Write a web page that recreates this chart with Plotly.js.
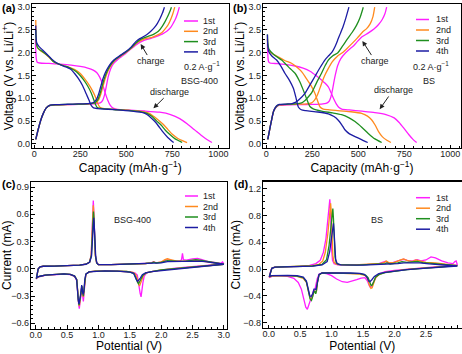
<!DOCTYPE html>
<html><head><meta charset="utf-8">
<script src="https://cdn.plot.ly/plotly-3.0.1.min.js"></script>
<style>html,body{margin:0;padding:0;background:#fff}#chart{width:462px;height:354px}</style>
</head><body><div id="chart"></div>
<script>
// ---------------- DATA ----------------
const cycleLabels = ['1st', '2nd', '3rd', '4th'];

// (a) BSG-400 galvanostatic curves [capacity mAh/g, voltage V]
const bsgDischarge1 = [[6,2.3],[8,2.05],[11,1.86],[16,1.79],[30,1.775],[80,1.765],[140,1.75],[200,1.728],[250,1.70],[290,1.665],[320,1.62],[340,1.56],[356,1.46],[370,1.32],[384,1.13],[398,0.97],[412,0.85],[428,0.785],[450,0.76],[520,0.742],[600,0.722],[680,0.695],[740,0.645],[790,0.555],[830,0.44],[870,0.31],[910,0.18],[940,0.09],[965,0.03]];
const bsgCharge1 = [[8,0.1],[20,0.3],[35,0.52],[49,0.67],[65,0.79],[85,0.84],[120,0.852],[180,0.86],[240,0.866],[300,0.874],[340,0.885],[360,0.905],[372,0.96],[382,1.08],[392,1.28],[402,1.48],[414,1.64],[430,1.76],[455,1.86],[495,1.98],[530,2.1],[562,2.2],[590,2.26],[620,2.3],[645,2.33],[665,2.36],[695,2.41],[720,2.47],[740,2.55],[755,2.65],[768,2.75],[778,2.86],[788,3.0]];
const bsgDischarge2 = [[8,2.72],[9.5,2.4],[12,2.2],[18,2.11],[32,2.05],[58,1.98],[80,1.9],[103,1.81],[130,1.755],[160,1.715],[190,1.68],[220,1.63],[248,1.55],[275,1.42],[300,1.28],[322,1.12],[337,0.98],[348,0.86],[358,0.8],[380,0.775],[440,0.755],[520,0.735],[590,0.71],[625,0.67],[650,0.6],[675,0.52],[700,0.43],[725,0.32],[750,0.21],[780,0.12],[805,0.07],[830,0.03]];
const bsgCharge2 = [[8,0.1],[20,0.3],[35,0.52],[49,0.67],[65,0.79],[85,0.845],[120,0.857],[180,0.864],[240,0.87],[290,0.878],[318,0.888],[336,0.91],[350,0.97],[362,1.1],[373,1.26],[385,1.43],[398,1.58],[416,1.72],[440,1.84],[470,1.93],[502,2.02],[532,2.12],[562,2.23],[590,2.29],[615,2.32],[640,2.34],[665,2.38],[692,2.44],[712,2.53],[728,2.62],[742,2.74],[753,2.86],[763,3.0]];
const bsgDischarge3 = [[8,2.5],[9.5,2.3],[12,2.18],[18,2.11],[32,2.06],[60,1.98],[80,1.91],[103,1.81],[130,1.755],[160,1.715],[190,1.675],[215,1.62],[240,1.54],[265,1.42],[290,1.27],[310,1.11],[323,0.97],[333,0.86],[342,0.8],[370,0.775],[430,0.755],[510,0.735],[580,0.705],[615,0.665],[640,0.6],[665,0.5],[690,0.41],[712,0.3],[738,0.2],[765,0.11],[790,0.06],[803,0.03]];
const bsgCharge3 = [[8,0.1],[20,0.3],[35,0.52],[49,0.67],[65,0.79],[85,0.845],[120,0.858],[180,0.866],[240,0.873],[290,0.88],[315,0.89],[331,0.91],[345,0.97],[357,1.1],[368,1.26],[380,1.43],[394,1.58],[412,1.72],[437,1.84],[467,1.93],[500,2.02],[530,2.12],[557,2.23],[580,2.3],[603,2.34],[625,2.37],[650,2.41],[674,2.47],[695,2.58],[711,2.69],[725,2.8],[737,2.91],[745,3.0]];
const bsgDischarge4 = [[8,2.6],[9.5,2.35],[13,2.22],[25,2.14],[45,2.06],[70,1.96],[95,1.86],[120,1.78],[150,1.72],[180,1.675],[200,1.635],[218,1.55],[240,1.43],[262,1.28],[282,1.1],[298,0.95],[310,0.84],[322,0.79],[345,0.775],[400,0.76],[470,0.74],[540,0.715],[590,0.685],[612,0.645],[635,0.57],[660,0.47],[682,0.35],[703,0.24],[725,0.14],[745,0.07],[757,0.03]];
const bsgCharge4 = [[8,0.1],[20,0.3],[35,0.52],[49,0.67],[65,0.79],[85,0.85],[120,0.862],[180,0.87],[240,0.877],[290,0.885],[310,0.895],[324,0.915],[337,0.97],[350,1.1],[361,1.26],[373,1.43],[388,1.58],[407,1.72],[432,1.84],[462,1.93],[496,2.02],[527,2.13],[553,2.25],[573,2.31],[592,2.35],[612,2.4],[633,2.47],[652,2.55],[668,2.64],[683,2.75],[696,2.87],[707,3.0]];

// (b) BS galvanostatic curves
const bsDischarge1 = [[6,2.2],[8,1.97],[12,1.81],[20,1.775],[60,1.762],[100,1.745],[150,1.715],[200,1.665],[240,1.59],[270,1.5],[300,1.4],[320,1.33],[337,1.25],[352,1.12],[366,0.99],[380,0.88],[395,0.8],[410,0.765],[450,0.745],[520,0.718],[590,0.688],[650,0.645],[695,0.57],[722,0.47],[748,0.34],[775,0.2],[797,0.1],[817,0.03]];
const bsCharge1 = [[8,0.1],[20,0.35],[30,0.55],[40,0.72],[55,0.81],[70,0.845],[110,0.855],[180,0.862],[250,0.868],[300,0.875],[325,0.89],[340,0.93],[350,1.02],[358,1.15],[366,1.33],[376,1.53],[388,1.72],[405,1.87],[431,2.0],[455,2.09],[476,2.16],[498,2.26],[520,2.35],[553,2.43],[585,2.52],[610,2.62],[630,2.73],[645,2.86],[654,3.0]];
const bsDischarge2 = [[6,2.3],[8,2.15],[14,2.05],[40,1.96],[70,1.9],[100,1.83],[137,1.77],[170,1.67],[195,1.57],[215,1.45],[240,1.3],[264,1.11],[280,0.93],[292,0.81],[310,0.765],[335,0.75],[400,0.725],[460,0.705],[518,0.67],[550,0.61],[572,0.53],[592,0.41],[610,0.27],[630,0.16],[655,0.08],[677,0.03]];
const bsCharge2 = [[8,0.1],[20,0.35],[30,0.55],[40,0.72],[55,0.82],[70,0.855],[110,0.865],[170,0.872],[220,0.88],[246,0.9],[262,0.96],[275,1.05],[285,1.15],[298,1.3],[315,1.48],[335,1.64],[358,1.8],[385,1.92],[413,2.0],[440,2.1],[465,2.2],[494,2.32],[522,2.45],[545,2.53],[565,2.64],[580,2.8],[589,3.0]];
const bsDischarge3 = [[6,2.4],[8,2.22],[14,2.08],[40,1.96],[83,1.84],[120,1.69],[156,1.55],[180,1.38],[201,1.18],[220,0.98],[237,0.82],[255,0.77],[300,0.72],[360,0.68],[409,0.64],[450,0.57],[482,0.49],[520,0.36],[554,0.23],[590,0.11],[627,0.03]];
const bsCharge3 = [[8,0.1],[20,0.35],[30,0.55],[40,0.72],[55,0.82],[70,0.86],[110,0.87],[160,0.878],[192,0.9],[212,0.96],[230,1.04],[246,1.12],[262,1.25],[280,1.4],[300,1.55],[320,1.72],[337,1.84],[360,1.93],[389,2.0],[415,2.15],[440,2.3],[467,2.45],[490,2.6],[510,2.78],[527,3.0]];
const bsDischarge4 = [[6,2.4],[8,2.15],[13,2.03],[30,1.93],[56,1.84],[80,1.7],[101,1.55],[125,1.4],[147,1.22],[162,1.0],[174,0.81],[190,0.75],[215,0.73],[280,0.7],[337,0.66],[368,0.6],[391,0.52],[410,0.42],[427,0.31],[452,0.22],[482,0.16],[520,0.09],[551,0.03]];
const bsCharge4 = [[8,0.1],[20,0.35],[30,0.55],[40,0.72],[55,0.83],[70,0.865],[110,0.875],[140,0.885],[158,0.91],[180,0.98],[210,1.11],[238,1.3],[264,1.48],[290,1.66],[318,1.84],[340,1.94],[358,2.02],[375,2.15],[390,2.3],[402,2.42],[416,2.56],[432,2.76],[449,3.0]];

// (c) BSG-400 cyclic voltammograms [potential V, current mA]
const bsgCV1 = [[3.0,0.055],[2.8,0.04],[2.6,0.03],[2.4,0.018],[2.2,0.004],[2.0,-0.012],[1.85,-0.03],[1.77,-0.045],[1.73,-0.08],[1.71,-0.15],[1.695,-0.25],[1.68,-0.31],[1.665,-0.27],[1.645,-0.15],[1.62,-0.07],[1.58,-0.045],[1.5,-0.033],[1.3,-0.025],[1.1,-0.022],[0.95,-0.025],[0.85,-0.035],[0.8,-0.06],[0.785,-0.15],[0.77,-0.33],[0.76,-0.36],[0.75,-0.3],[0.735,-0.2],[0.72,-0.3],[0.705,-0.42],[0.695,-0.44],[0.683,-0.38],[0.67,-0.22],[0.655,-0.13],[0.62,-0.085],[0.55,-0.065],[0.45,-0.058],[0.3,-0.062],[0.15,-0.072],[0.07,-0.085],[0.02,-0.1],[0.01,-0.115],[0.02,-0.06],[0.04,0.0],[0.07,0.022],[0.12,0.028],[0.3,0.03],[0.5,0.034],[0.7,0.04],[0.8,0.05],[0.86,0.075],[0.885,0.15],[0.9,0.38],[0.912,0.68],[0.918,0.75],[0.925,0.66],[0.937,0.38],[0.95,0.16],[0.97,0.07],[1.0,0.045],[1.2,0.045],[1.5,0.05],[1.75,0.058],[1.85,0.068],[1.88,0.078],[1.92,0.066],[2.0,0.072],[2.08,0.095],[2.13,0.1],[2.2,0.085],[2.3,0.085],[2.325,0.1],[2.34,0.17],[2.355,0.1],[2.4,0.095],[2.5,0.11],[2.58,0.115],[2.65,0.1],[2.75,0.08],[2.85,0.07],[2.95,0.06],[2.98,0.075],[3.0,0.055]];
const bsgCV2 = [[3.0,0.05],[2.8,0.038],[2.6,0.028],[2.4,0.016],[2.2,0.003],[2.0,-0.012],[1.85,-0.03],[1.76,-0.045],[1.72,-0.07],[1.69,-0.12],[1.67,-0.17],[1.655,-0.19],[1.64,-0.17],[1.62,-0.11],[1.59,-0.06],[1.55,-0.04],[1.45,-0.03],[1.3,-0.025],[1.1,-0.022],[0.95,-0.025],[0.85,-0.035],[0.8,-0.06],[0.785,-0.14],[0.77,-0.28],[0.76,-0.31],[0.75,-0.27],[0.735,-0.19],[0.72,-0.28],[0.705,-0.39],[0.695,-0.41],[0.683,-0.36],[0.67,-0.21],[0.655,-0.12],[0.62,-0.08],[0.55,-0.062],[0.45,-0.056],[0.3,-0.06],[0.15,-0.07],[0.07,-0.082],[0.02,-0.095],[0.01,-0.11],[0.02,-0.06],[0.04,0.0],[0.07,0.022],[0.12,0.028],[0.3,0.03],[0.5,0.034],[0.7,0.04],[0.8,0.05],[0.86,0.075],[0.885,0.15],[0.9,0.36],[0.912,0.63],[0.918,0.7],[0.925,0.62],[0.937,0.36],[0.95,0.15],[0.97,0.07],[1.0,0.045],[1.2,0.045],[1.5,0.05],[1.75,0.058],[1.85,0.066],[1.88,0.075],[1.92,0.066],[2.0,0.075],[2.06,0.1],[2.1,0.11],[2.15,0.1],[2.25,0.085],[2.35,0.085],[2.45,0.09],[2.55,0.095],[2.65,0.085],[2.8,0.07],[2.9,0.062],[3.0,0.05]];
const bsgCV3 = [[3.0,0.05],[2.8,0.037],[2.6,0.026],[2.4,0.015],[2.2,0.002],[2.0,-0.013],[1.85,-0.03],[1.76,-0.045],[1.71,-0.07],[1.68,-0.11],[1.66,-0.15],[1.64,-0.165],[1.625,-0.15],[1.6,-0.1],[1.57,-0.055],[1.52,-0.04],[1.45,-0.03],[1.3,-0.025],[1.1,-0.022],[0.95,-0.025],[0.85,-0.035],[0.8,-0.06],[0.785,-0.13],[0.77,-0.27],[0.76,-0.3],[0.75,-0.26],[0.735,-0.19],[0.72,-0.28],[0.705,-0.38],[0.692,-0.4],[0.68,-0.35],[0.668,-0.2],[0.655,-0.12],[0.62,-0.08],[0.55,-0.062],[0.45,-0.056],[0.3,-0.06],[0.15,-0.07],[0.07,-0.082],[0.02,-0.095],[0.01,-0.11],[0.02,-0.06],[0.04,0.0],[0.07,0.022],[0.12,0.028],[0.3,0.03],[0.5,0.034],[0.7,0.04],[0.8,0.05],[0.86,0.075],[0.888,0.15],[0.903,0.34],[0.915,0.57],[0.921,0.63],[0.928,0.56],[0.94,0.33],[0.953,0.14],[0.972,0.065],[1.0,0.045],[1.2,0.045],[1.5,0.05],[1.75,0.058],[1.85,0.066],[1.88,0.072],[1.92,0.064],[2.0,0.07],[2.1,0.09],[2.2,0.085],[2.3,0.082],[2.4,0.085],[2.48,0.095],[2.55,0.1],[2.62,0.095],[2.7,0.085],[2.8,0.072],[2.9,0.062],[3.0,0.05]];
const bsgCV4 = [[3.0,0.05],[2.8,0.036],[2.6,0.025],[2.4,0.014],[2.2,0.001],[2.0,-0.014],[1.85,-0.03],[1.75,-0.045],[1.7,-0.065],[1.67,-0.1],[1.645,-0.13],[1.625,-0.14],[1.61,-0.125],[1.59,-0.085],[1.56,-0.05],[1.5,-0.036],[1.4,-0.028],[1.3,-0.025],[1.1,-0.022],[0.95,-0.025],[0.85,-0.035],[0.8,-0.06],[0.783,-0.12],[0.768,-0.25],[0.757,-0.28],[0.747,-0.25],[0.733,-0.18],[0.718,-0.27],[0.703,-0.37],[0.69,-0.39],[0.678,-0.34],[0.666,-0.2],[0.653,-0.12],[0.62,-0.08],[0.55,-0.062],[0.45,-0.056],[0.3,-0.06],[0.15,-0.07],[0.07,-0.082],[0.02,-0.092],[0.01,-0.105],[0.02,-0.06],[0.04,0.0],[0.07,0.022],[0.12,0.028],[0.3,0.03],[0.5,0.034],[0.7,0.04],[0.8,0.05],[0.86,0.072],[0.89,0.14],[0.906,0.3],[0.918,0.5],[0.925,0.56],[0.932,0.5],[0.944,0.3],[0.957,0.13],[0.975,0.065],[1.0,0.045],[1.2,0.045],[1.5,0.05],[1.75,0.056],[1.9,0.062],[2.0,0.066],[2.1,0.078],[2.2,0.08],[2.3,0.08],[2.4,0.082],[2.5,0.085],[2.6,0.085],[2.7,0.078],[2.8,0.068],[2.9,0.06],[3.0,0.05]];

// (d) BS cyclic voltammograms
const bsCV1 = [[3.0,0.06],[2.8,0.045],[2.6,0.03],[2.4,0.015],[2.2,0.0],[2.0,-0.02],[1.85,-0.04],[1.76,-0.07],[1.71,-0.12],[1.67,-0.2],[1.64,-0.26],[1.62,-0.28],[1.6,-0.25],[1.57,-0.18],[1.53,-0.13],[1.47,-0.135],[1.4,-0.16],[1.32,-0.185],[1.25,-0.2],[1.17,-0.19],[1.08,-0.15],[1.0,-0.1],[0.92,-0.07],[0.85,-0.06],[0.8,-0.08],[0.77,-0.15],[0.745,-0.27],[0.73,-0.33],[0.715,-0.32],[0.7,-0.36],[0.67,-0.45],[0.64,-0.54],[0.615,-0.6],[0.59,-0.57],[0.56,-0.45],[0.52,-0.3],[0.47,-0.2],[0.4,-0.14],[0.3,-0.11],[0.15,-0.1],[0.05,-0.11],[0.01,-0.13],[0.025,-0.05],[0.05,0.01],[0.1,0.028],[0.3,0.032],[0.5,0.04],[0.65,0.055],[0.75,0.08],[0.82,0.13],[0.87,0.25],[0.91,0.45],[0.94,0.72],[0.96,0.95],[0.972,1.04],[0.982,0.9],[0.99,0.6],[1.0,0.3],[1.015,0.13],[1.04,0.08],[1.1,0.06],[1.3,0.058],[1.55,0.065],[1.75,0.08],[1.82,0.1],[1.86,0.115],[1.9,0.09],[1.98,0.1],[2.08,0.13],[2.15,0.145],[2.22,0.12],[2.3,0.125],[2.36,0.14],[2.42,0.12],[2.5,0.135],[2.58,0.18],[2.65,0.165],[2.75,0.12],[2.85,0.09],[2.93,0.08],[2.96,0.11],[2.98,0.12],[3.0,0.06]];
const bsCV2 = [[3.0,0.05],[2.8,0.04],[2.6,0.025],[2.4,0.01],[2.2,-0.005],[2.0,-0.03],[1.85,-0.05],[1.76,-0.08],[1.7,-0.13],[1.67,-0.21],[1.645,-0.28],[1.625,-0.29],[1.6,-0.24],[1.575,-0.15],[1.54,-0.1],[1.45,-0.075],[1.3,-0.065],[1.1,-0.06],[0.95,-0.058],[0.85,-0.06],[0.8,-0.09],[0.775,-0.2],[0.76,-0.33],[0.745,-0.36],[0.73,-0.33],[0.715,-0.34],[0.695,-0.42],[0.675,-0.46],[0.655,-0.43],[0.63,-0.32],[0.6,-0.2],[0.55,-0.14],[0.45,-0.11],[0.3,-0.1],[0.15,-0.1],[0.05,-0.105],[0.01,-0.12],[0.025,-0.05],[0.05,0.01],[0.1,0.028],[0.3,0.032],[0.5,0.038],[0.7,0.05],[0.8,0.07],[0.86,0.12],[0.9,0.25],[0.94,0.52],[0.97,0.82],[0.985,0.98],[0.995,0.85],[1.005,0.5],[1.02,0.2],[1.04,0.1],[1.08,0.07],[1.3,0.058],[1.6,0.068],[1.78,0.085],[1.84,0.1],[1.87,0.12],[1.92,0.09],[2.0,0.1],[2.08,0.13],[2.14,0.15],[2.2,0.13],[2.28,0.11],[2.34,0.135],[2.4,0.12],[2.5,0.1],[2.65,0.09],[2.8,0.075],[2.9,0.07],[3.0,0.05]];
const bsCV3 = [[3.0,0.05],[2.8,0.038],[2.6,0.022],[2.4,0.005],[2.2,-0.01],[2.0,-0.035],[1.85,-0.055],[1.76,-0.08],[1.7,-0.12],[1.67,-0.19],[1.645,-0.24],[1.628,-0.245],[1.605,-0.2],[1.58,-0.13],[1.54,-0.09],[1.45,-0.07],[1.3,-0.065],[1.1,-0.06],[0.95,-0.058],[0.85,-0.06],[0.8,-0.09],[0.775,-0.2],[0.76,-0.32],[0.748,-0.37],[0.735,-0.34],[0.72,-0.33],[0.7,-0.41],[0.68,-0.47],[0.66,-0.45],[0.635,-0.33],[0.6,-0.19],[0.55,-0.13],[0.45,-0.105],[0.3,-0.1],[0.15,-0.1],[0.05,-0.1],[0.01,-0.115],[0.025,-0.05],[0.05,0.01],[0.1,0.028],[0.3,0.032],[0.5,0.037],[0.7,0.045],[0.85,0.07],[0.92,0.14],[0.96,0.35],[0.99,0.68],[1.01,0.86],[1.02,0.9],[1.03,0.75],[1.04,0.45],[1.055,0.18],[1.075,0.09],[1.12,0.065],[1.4,0.058],[1.7,0.068],[1.85,0.08],[1.88,0.09],[1.93,0.075],[2.05,0.09],[2.12,0.11],[2.2,0.1],[2.3,0.105],[2.36,0.115],[2.45,0.095],[2.6,0.085],[2.8,0.07],[3.0,0.05]];
const bsCV4 = [[3.0,0.045],[2.8,0.035],[2.6,0.02],[2.4,0.005],[2.2,-0.01],[2.0,-0.03],[1.85,-0.05],[1.75,-0.07],[1.68,-0.11],[1.64,-0.16],[1.61,-0.19],[1.59,-0.18],[1.56,-0.12],[1.52,-0.08],[1.45,-0.065],[1.3,-0.06],[1.1,-0.058],[0.95,-0.056],[0.85,-0.058],[0.8,-0.08],[0.78,-0.17],[0.765,-0.28],[0.752,-0.31],[0.74,-0.3],[0.72,-0.3],[0.7,-0.37],[0.675,-0.41],[0.655,-0.4],[0.63,-0.3],[0.6,-0.18],[0.55,-0.12],[0.45,-0.1],[0.3,-0.095],[0.15,-0.095],[0.05,-0.1],[0.01,-0.115],[0.025,-0.05],[0.05,0.01],[0.1,0.028],[0.3,0.032],[0.5,0.036],[0.7,0.042],[0.85,0.06],[0.93,0.11],[0.97,0.26],[1.0,0.5],[1.02,0.65],[1.03,0.68],[1.04,0.55],[1.05,0.3],[1.065,0.14],[1.09,0.08],[1.15,0.062],[1.5,0.058],[1.8,0.065],[1.9,0.075],[2.05,0.08],[2.15,0.09],[2.3,0.095],[2.4,0.09],[2.55,0.075],[2.8,0.06],[3.0,0.045]];

// ---------------- STYLE ----------------
const cycleColors = ['#ff1eff', '#ff8a1e', '#1f8f1f', '#1c1ca3'];
const FONT = 'Liberation Sans, Arial, sans-serif';
const W = 462, H = 354;
const px = v => v / W, py = v => 1 - v / H;

const gcd = [
  [bsgDischarge1, bsgCharge1, bsDischarge1, bsCharge1],
  [bsgDischarge2, bsgCharge2, bsDischarge2, bsCharge2],
  [bsgDischarge3, bsgCharge3, bsDischarge3, bsCharge3],
  [bsgDischarge4, bsgCharge4, bsDischarge4, bsCharge4]
];
const cvs = [[bsgCV1, bsCV1], [bsgCV2, bsCV2], [bsgCV3, bsCV3], [bsgCV4, bsCV4]];

function joinPairs(a, b) {
  const x = a.map(p => p[0]).concat([null], b.map(p => p[0]));
  const y = a.map(p => p[1]).concat([null], b.map(p => p[1]));
  return {x, y};
}

const traces = [];
for (let i = 0; i < 4; i++) {
  const A = joinPairs(gcd[i][0], gcd[i][1]);
  const B = joinPairs(gcd[i][2], gcd[i][3]);
  traces.push({x: A.x, y: A.y, xaxis: 'x', yaxis: 'y', mode: 'lines', name: cycleLabels[i],
    line: {color: cycleColors[i], width: 1.3, shape: 'spline', smoothing: 0.6}, connectgaps: false, showlegend: false});
  traces.push({x: B.x, y: B.y, xaxis: 'x2', yaxis: 'y2', mode: 'lines', name: cycleLabels[i],
    line: {color: cycleColors[i], width: 1.3, shape: 'spline', smoothing: 0.6}, connectgaps: false, showlegend: false});
}
for (let i = 0; i < 4; i++) {
  traces.push({x: cvs[i][0].map(p => p[0]), y: cvs[i][0].map(p => p[1]), xaxis: 'x3', yaxis: 'y3', mode: 'lines',
    name: cycleLabels[i], line: {color: cycleColors[i], width: 1.3}, showlegend: false});
  traces.push({x: cvs[i][1].map(p => p[0]), y: cvs[i][1].map(p => p[1]), xaxis: 'x4', yaxis: 'y4', mode: 'lines',
    name: cycleLabels[i], line: {color: cycleColors[i], width: 1.3}, showlegend: false});
}

function axis(extra, titleText, standoff, labelOff) {
  return Object.assign({
    showline: true, linecolor: '#000', linewidth: 1.2, mirror: true,
    ticks: 'inside', ticklen: 3.5, tickwidth: 1, tickcolor: '#000',
    showgrid: false, zeroline: false, automargin: false,
    ticklabelstandoff: labelOff,
    tickfont: {family: FONT, size: 9, color: '#222'},
    title: {text: titleText, font: {family: FONT, size: 12, color: '#000'}, standoff: standoff}
  }, extra);
}

const capTitle = 'Capacity (mAh·g<sup>−1</sup>)';
const voltTitle = 'Voltage (V vs. Li/Li<sup>+</sup>)';

const layout = {
  width: W, height: H, margin: {l: 0, r: 0, t: 0, b: 0},
  paper_bgcolor: '#fff', plot_bgcolor: '#fff', showlegend: false,
  font: {family: FONT, color: '#000'},
  xaxis: axis({domain: [px(32), px(228.5)], range: [-12.5, 1055], anchor: 'y', tick0: 0, dtick: 250,
    minor: {ticks: 'inside', ticklen: 2, dtick: 50, tickcolor: '#000'}}, capTitle, 1, -3),
  yaxis: axis({domain: [py(148), py(4)], range: [-0.09, 3.07], anchor: 'x', tick0: 0, dtick: 0.5, tickformat: '.1f',
    minor: {ticks: 'inside', ticklen: 2, dtick: 0.1, tickcolor: '#000'}}, voltTitle, 1, -1),
  xaxis2: axis({domain: [px(263), px(461)], range: [-18, 1058], anchor: 'y2', tick0: 0, dtick: 250,
    minor: {ticks: 'inside', ticklen: 2, dtick: 50, tickcolor: '#000'}}, capTitle, 1, -3),
  yaxis2: axis({domain: [py(148), py(4)], range: [-0.09, 3.07], anchor: 'x2', tick0: 0, dtick: 0.5, tickformat: '.1f',
    minor: {ticks: 'inside', ticklen: 2, dtick: 0.1, tickcolor: '#000'}}, voltTitle, 1, -1),
  xaxis3: axis({domain: [px(31), px(227)], range: [-0.075, 3.05], anchor: 'y3', tick0: 0, dtick: 0.5, tickformat: '.1f',
    minor: {ticks: 'inside', ticklen: 2, dtick: 0.1, tickcolor: '#000'}}, 'Potential (V)', 1, -3),
  yaxis3: axis({domain: [py(328.5), py(182)], range: [-0.657, 0.955], anchor: 'x3', tick0: 0, dtick: 0.3, tickformat: '.1f',
    minor: {ticks: 'inside', ticklen: 2, dtick: 0.05, tickcolor: '#000'}}, 'Current (mA)', 0, -1),
  xaxis4: axis({domain: [px(263), px(461.5)], range: [-0.09, 3.065], anchor: 'y4', tick0: 0, dtick: 0.5, tickformat: '.1f',
    minor: {ticks: 'inside', ticklen: 2, dtick: 0.1, tickcolor: '#000'}}, 'Potential (V)', 1, -3),
  yaxis4: axis({domain: [py(328), py(181.5)], range: [-0.88, 1.305], anchor: 'x4', tick0: 0, dtick: 0.4, tickformat: '.1f',
    minor: {ticks: 'inside', ticklen: 2, dtick: 0.1, tickcolor: '#000'}}, 'Current (mA)', 0, -1),
  shapes: [],
  annotations: []
};

const txt = (x, y, text, xref, yref, opts) => Object.assign({x, y, xref, yref, text, showarrow: false,
  font: {family: FONT, size: 9, color: '#222'}}, opts || {});
// arrow annotation: tip at (x,y), text centred at (ax,ay)
const arrowTxt = (x, y, ax, ay, text, xr, yr) => ({x, y, ax, ay, xref: xr, yref: yr, axref: xr, ayref: yr, text,
  font: {family: FONT, size: 9, color: '#222'}, borderpad: 0,
  showarrow: true, arrowhead: 2, arrowsize: 1, arrowwidth: 1, arrowcolor: '#222', standoff: 0, startstandoff: 1});

const lblFont = {family: FONT, size: 11, color: '#000'};
layout.annotations.push(txt(px(0), py(0), '<b>(a)</b>', 'paper', 'paper', {xanchor: 'left', yanchor: 'top', font: lblFont}));
layout.annotations.push(txt(px(231), py(0), '<b>(b)</b>', 'paper', 'paper', {xanchor: 'left', yanchor: 'top', font: lblFont}));
layout.annotations.push(txt(px(0), py(176), '<b>(c)</b>', 'paper', 'paper', {xanchor: 'left', yanchor: 'top', font: lblFont}));
layout.annotations.push(txt(px(232), py(176.5), '<b>(d)</b>', 'paper', 'paper', {xanchor: 'left', yanchor: 'top', font: lblFont}));

// panel a notes
layout.annotations.push(arrowTxt(578, 2.19, 634, 1.81, 'charge', 'x', 'y'));
layout.annotations.push(txt(910, 1.70, '0.2 A·g<sup>−1</sup>', 'x', 'y'));
layout.annotations.push(txt(895, 1.38, 'BSG-400', 'x', 'y'));
layout.annotations.push(arrowTxt(647, 0.78, 737, 1.14, 'discharge', 'x', 'y'));
// panel b notes
layout.annotations.push(arrowTxt(522, 2.26, 593, 1.81, 'charge', 'x2', 'y2'));
layout.annotations.push(txt(893, 1.70, '0.2 A·g<sup>−1</sup>', 'x2', 'y2'));
layout.annotations.push(txt(884, 1.38, 'BS', 'x2', 'y2'));
layout.annotations.push(arrowTxt(616, 0.76, 689, 1.18, 'discharge', 'x2', 'y2'));
// panel c, d notes
layout.annotations.push(txt(1.55, 0.534, 'BSG-400', 'x3', 'y3'));
layout.annotations.push(txt(1.72, 0.737, 'BS', 'x4', 'y4'));

// legends (one per panel)
const legendSpecs = [
  {x1: 184, x2: 198, tx: 201, rows: [21, 31.3, 41.6, 51.9]},
  {x1: 416, x2: 429, tx: 434, rows: [19.5, 30, 40.5, 51]},
  {x1: 185, x2: 198, tx: 201, rows: [196, 206.5, 217, 227.5]},
  {x1: 416, x2: 430, tx: 434, rows: [197.7, 208.2, 218.7, 229.2]}
];
legendSpecs.forEach(s => {
  for (let i = 0; i < 4; i++) {
    layout.shapes.push({type: 'line', xref: 'paper', yref: 'paper', x0: px(s.x1), x1: px(s.x2), y0: py(s.rows[i]), y1: py(s.rows[i]),
      line: {color: cycleColors[i], width: 1.5}});
    layout.annotations.push(txt(px(s.tx), py(s.rows[i]), cycleLabels[i], 'paper', 'paper', {xanchor: 'left', yanchor: 'middle'}));
  }
});

Plotly.newPlot('chart', traces, layout, {displayModeBar: false, staticPlot: true});
</script>
</body></html>
